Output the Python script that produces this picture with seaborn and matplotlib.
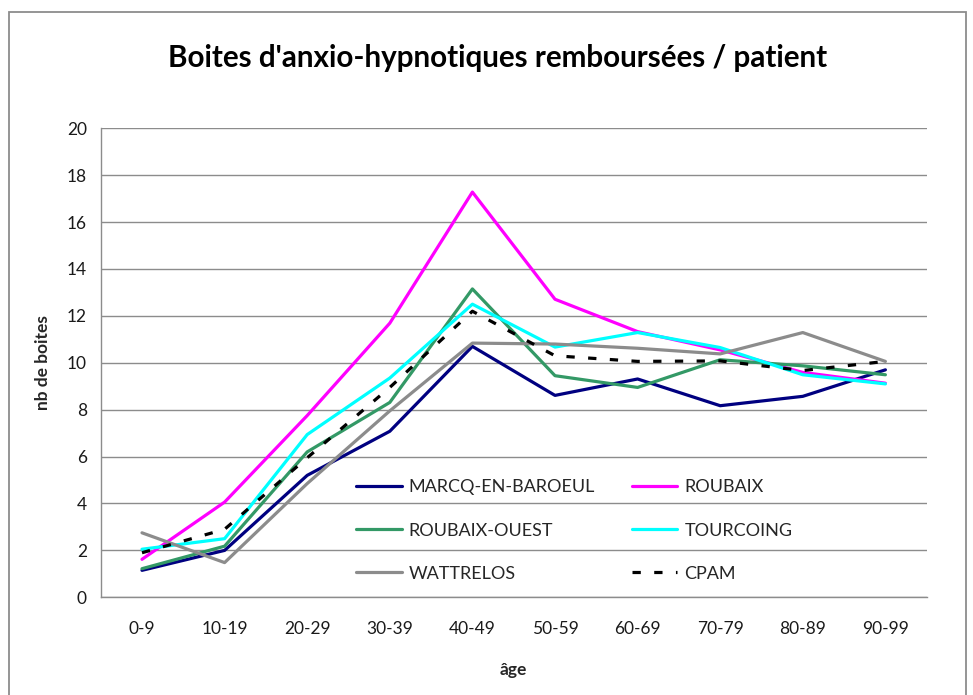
import matplotlib
matplotlib.use("Agg")
import matplotlib.pyplot as plt
import seaborn as sns
import pandas as pd
from matplotlib.patches import Rectangle
from matplotlib.ticker import FixedLocator

ages = ["0-9", "10-19", "20-29", "30-39", "40-49", "50-59", "60-69", "70-79", "80-89", "90-99"]
marcq = [1.15, 2.0, 5.2, 7.08, 10.7, 8.61, 9.31, 8.17, 8.57, 9.7]
roubaix = [1.62, 4.06, 7.75, 11.69, 17.28, 12.71, 11.33, 10.55, 9.59, 9.13]
roubaix_ouest = [1.22, 2.18, 6.2, 8.31, 13.15, 9.45, 8.95, 10.13, 9.87, 9.49]
tourcoing = [2.05, 2.5, 6.94, 9.35, 12.5, 10.67, 11.29, 10.65, 9.49, 9.1]
wattrelos = [2.75, 1.48, 4.85, 7.95, 10.84, 10.8, 10.62, 10.38, 11.29, 10.06]
cpam = [1.9, 2.9, 5.95, 8.95, 12.2, 10.3, 10.06, 10.08, 9.67, 10.06]

series_names = ["MARCQ-EN-BAROEUL", "ROUBAIX", "ROUBAIX-OUEST", "TOURCOING", "WATTRELOS", "CPAM"]
series_values = [marcq, roubaix, roubaix_ouest, tourcoing, wattrelos, cpam]
colors = ["#000080", "#FF00FF", "#339966", "#00FFFF", "#8C8C8C", "#000000"]

rows = []
for name, vals in zip(series_names, series_values):
    for a, v in zip(ages, vals):
        rows.append({"age": a, "value": v, "serie": name})
df = pd.DataFrame(rows)

sns.set_theme(style="white")
plt.rcParams["font.family"] = ["Lato", "DejaVu Sans"]

fig = plt.figure(figsize=(9.73, 6.95), dpi=100)
W, H = 973, 695
ax = fig.add_axes([100.7 / W, (H - 597.3) / H, 826 / W, (597.3 - 128.3) / H])

# outer frame
fig.patches.append(Rectangle((9 / W, -0.05), (966 - 9) / W, (H - 12) / H + 0.05,
                             transform=fig.transFigure, fill=False,
                             edgecolor="#8C8C8C", linewidth=1.3))

palette = dict(zip(series_names, colors))
dashes = {n: "" for n in series_names}
dashes["CPAM"] = (2.6, 4.2)

sns.lineplot(data=df, x="age", y="value", hue="serie", style="serie",
             hue_order=series_names, style_order=series_names,
             palette=palette, dashes=dashes, sort=False, linewidth=2.3,
             ax=ax, legend=True)

ax.set_xlim(-0.5, 9.5)
ax.set_ylim(0, 20)
ax.set_yticks(range(0, 21, 2))
ax.yaxis.grid(True, color="#8C8C8C", linewidth=1.0)
ax.xaxis.grid(False)
ax.set_axisbelow(True)
for s in ["top", "right"]:
    ax.spines[s].set_visible(False)
for s in ["left", "bottom"]:
    ax.spines[s].set_color("#8C8C8C")
    ax.spines[s].set_linewidth(1.0)

ax.xaxis.set_minor_locator(FixedLocator([i - 0.5 for i in range(11)]))
ax.tick_params(axis="x", which="major", length=0, labelsize=12.5, pad=17, colors="#1a1a1a")
ax.tick_params(axis="x", which="minor", length=5, direction="out", color="#8C8C8C", width=1)
ax.tick_params(axis="y", which="major", length=5, direction="out", color="#8C8C8C", width=1,
               labelsize=12.5, pad=5, labelcolor="#1a1a1a")

ax.set_xlabel("âge", fontsize=12.5, fontweight="bold", labelpad=18)
ax.set_ylabel("nb de boites", fontsize=12.5, fontweight="bold", labelpad=11)

fig.text(0.511, 1 - 58 / H, "Boites d'anxio-hypnotiques remboursées / patient",
         ha="center", va="center", fontsize=21.3, fontweight="bold", color="black")

handles, labels = ax.get_legend_handles_labels()
hmap = dict(zip(labels, handles))
order = ["MARCQ-EN-BAROEUL", "ROUBAIX-OUEST", "WATTRELOS", "ROUBAIX", "TOURCOING", "CPAM"]
ax.legend([hmap[o] for o in order], order, ncol=2, frameon=False, fontsize=13,
          loc="upper left", bbox_to_anchor=(342 / W, 1 - 465 / H),
          bbox_transform=fig.transFigure, handlelength=2.5, handletextpad=0.4,
          labelspacing=1.5, columnspacing=2.05, borderpad=0.3)

fig.savefig("out.png", dpi=100)
